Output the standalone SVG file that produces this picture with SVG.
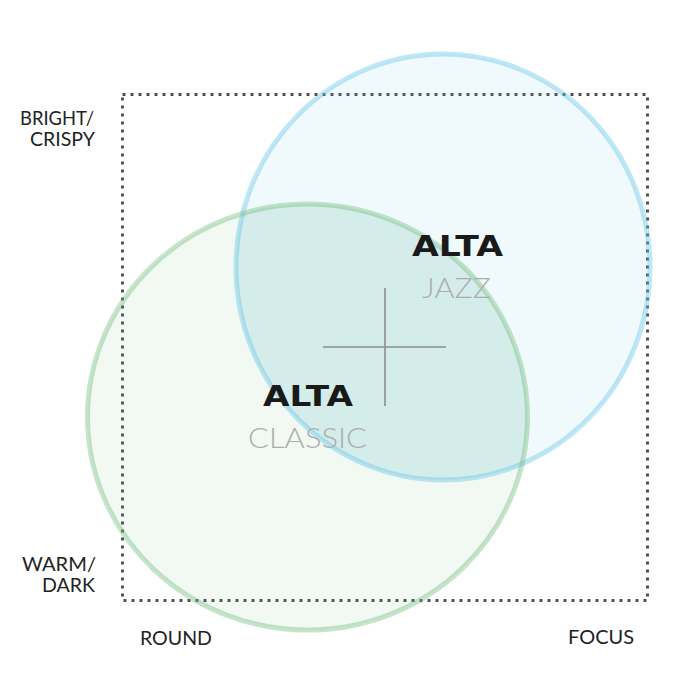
<svg xmlns="http://www.w3.org/2000/svg" width="700" height="700" viewBox="0 0 700 700">
<style>
.axis{font-family:"Lato","Liberation Sans",sans-serif;font-size:20px;fill:#222}
.brand{font-family:"DejaVu Sans","Liberation Sans",sans-serif;font-weight:bold;font-size:28px;fill:#1a1a1a}
.model{font-family:"Lato","Liberation Sans",sans-serif;font-weight:300;font-size:28px;fill:#acacac}
.fillB{fill:#5ec4e6;fill-opacity:0.09}
.fillG{fill:#6dbb78;fill-opacity:0.09}
.strokeB{fill:none;stroke:#5ec4e6;stroke-opacity:0.4;stroke-width:5}
.strokeG{fill:none;stroke:#6dbb78;stroke-opacity:0.4;stroke-width:5}
</style>
<defs>
<clipPath id="clipB"><ellipse cx="443" cy="267" rx="207" ry="213"/></clipPath>
</defs>
<rect width="700" height="700" fill="#ffffff"/>
<g id="frame">
<rect x="122.5" y="94.5" width="525" height="506" fill="none" stroke="#505050" stroke-width="3" stroke-dasharray="3 5"/>
</g>
<g id="jazz-circle">
<ellipse class="fillB" cx="443" cy="267" rx="207" ry="213"/>
</g>
<g id="classic-circle">
<ellipse class="fillG" cx="307.5" cy="417" rx="220" ry="213"/>
</g>
<g id="overlap">
<ellipse cx="307.5" cy="417" rx="220" ry="213" fill="#4fb3b5" fill-opacity="0.11" clip-path="url(#clipB)"/>
</g>
<g id="outlines">
<ellipse class="strokeB" cx="443" cy="267" rx="207" ry="213"/>
<ellipse class="strokeG" cx="307.5" cy="417" rx="220" ry="213"/>
</g>
<g id="connectors">
<line x1="323" y1="347" x2="446" y2="347" stroke="#8c8c8c" stroke-width="1.6"/>
<line x1="385" y1="288" x2="385" y2="406" stroke="#8c8c8c" stroke-width="1.6"/>
</g>
<g id="label-jazz">
<text class="brand" x="412" y="256" textLength="91" lengthAdjust="spacingAndGlyphs">ALTA</text>
<text class="model" x="422" y="298" textLength="69" lengthAdjust="spacingAndGlyphs">JAZZ</text>
</g>
<g id="label-classic">
<text class="brand" x="263" y="406" textLength="90" lengthAdjust="spacingAndGlyphs">ALTA</text>
<text class="model" x="248" y="448" textLength="119" lengthAdjust="spacingAndGlyphs">CLASSIC</text>
</g>
<g id="axis-labels">
<text class="axis" x="20" y="125" textLength="74" lengthAdjust="spacingAndGlyphs">BRIGHT/</text>
<text class="axis" x="30" y="146" textLength="65" lengthAdjust="spacingAndGlyphs">CRISPY</text>
<text class="axis" x="22" y="571" textLength="74" lengthAdjust="spacingAndGlyphs">WARM/</text>
<text class="axis" x="42" y="592" textLength="53" lengthAdjust="spacingAndGlyphs">DARK</text>
<text class="axis" x="140" y="645" textLength="72" lengthAdjust="spacingAndGlyphs">ROUND</text>
<text class="axis" x="568" y="644" textLength="66" lengthAdjust="spacingAndGlyphs">FOCUS</text>
</g>
</svg>
